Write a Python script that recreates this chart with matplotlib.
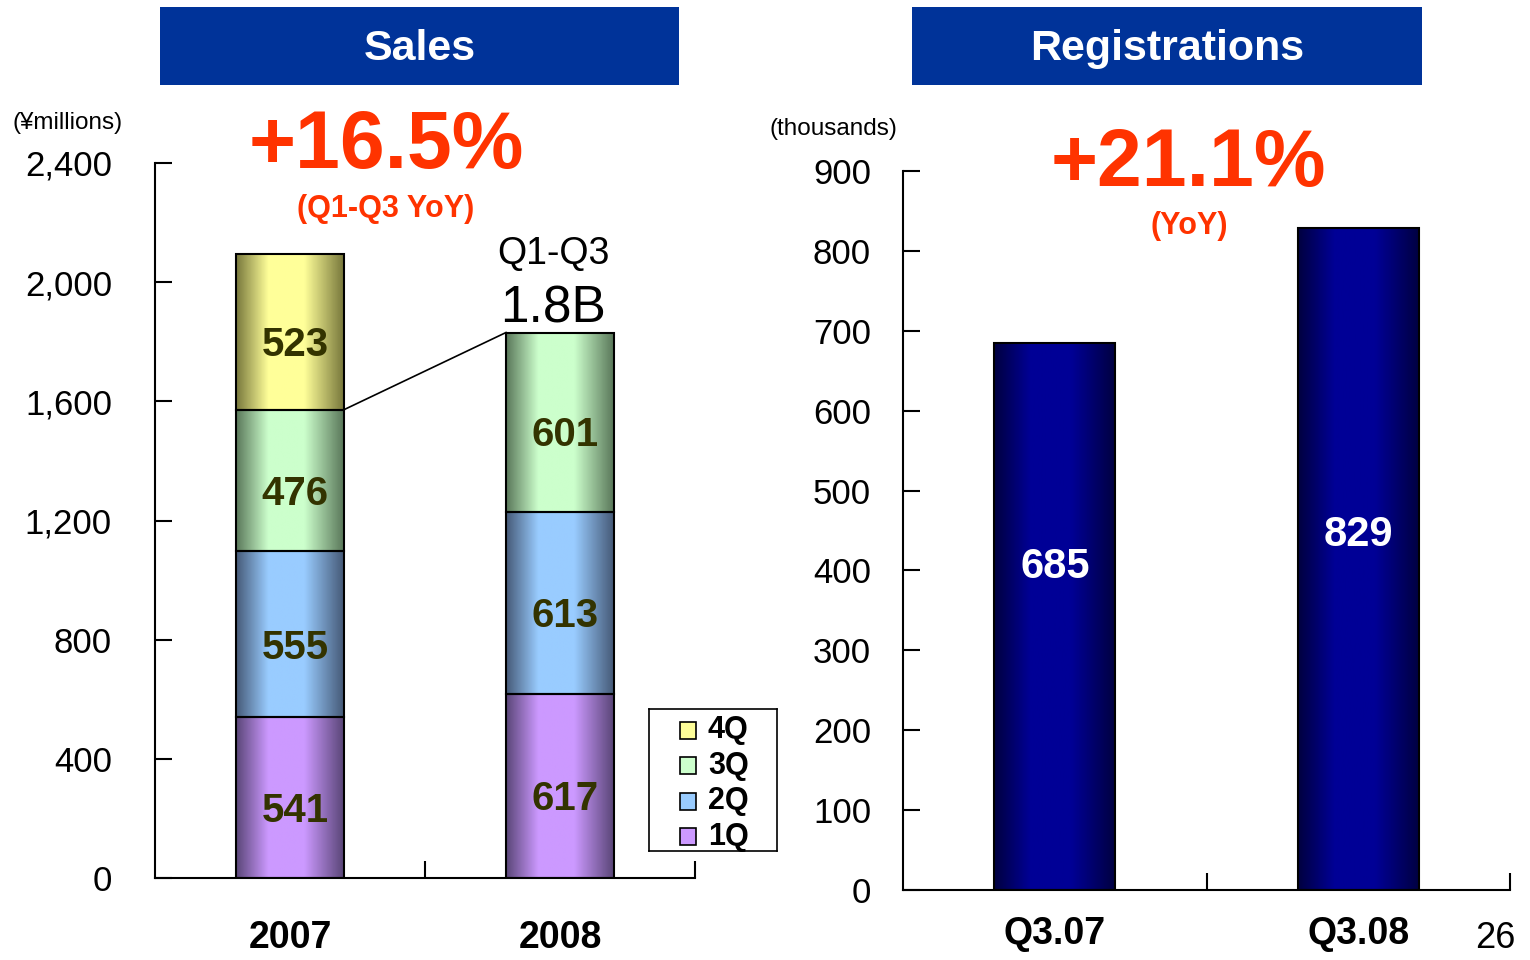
import numpy as np
import matplotlib.pyplot as plt
from matplotlib.colors import LinearSegmentedColormap, to_rgb
from matplotlib.patches import Rectangle
from matplotlib.ticker import FuncFormatter, FixedLocator

plt.rcParams["font.family"] = ["Liberation Sans", "DejaVu Sans"]

# --------------------------------------------------------------
# Data
# --------------------------------------------------------------
years = ["2007", "2008"]
quarters = ["1Q", "2Q", "3Q", "4Q"]
sales_1q = [541, 617]
sales_2q = [555, 613]
sales_3q = [476, 601]
sales_4q = [523, 0]
q_colors = {"1Q": ("#cc99ff", "#5a4678"), "2Q": ("#99ccff", "#465a78"),
            "3Q": ("#ccffcc", "#5a785a"), "4Q": ("#ffff99", "#78783c")}

periods = ["Q3.07", "Q3.08"]
registrations = [685, 829]
reg_label_y = [404, 444]


def gradient_bar(ax, x, bottom, height, width, light, dark):
    bar = ax.bar(x, height, width, bottom=bottom, color="none",
                 edgecolor="black", linewidth=1.5, zorder=3)[0]
    cmap = LinearSegmentedColormap.from_list(
        "g", [to_rgb(dark), to_rgb(light), to_rgb(light), to_rgb(dark)],
    )
    grad = np.linspace(0, 1, 256).reshape(1, -1)
    # bright zone slightly left of centre
    grad = np.interp(grad, [0, 0.45, 1], [0, 0.5, 1])
    im = ax.imshow(grad, cmap=cmap, aspect="auto", zorder=2,
                   extent=[x - width / 2, x + width / 2, bottom, bottom + height])
    im.set_clip_path(bar)
    return bar


fig = plt.figure(figsize=(15.3, 9.6), dpi=100)

# --------------------------------------------------------------
# Sales
# --------------------------------------------------------------
ax1 = fig.add_axes([155 / 1530, 82 / 960, 540 / 1530, 715 / 960])
x = np.arange(len(years)) + 0.5
w = 0.4
stack = [("1Q", sales_1q), ("2Q", sales_2q), ("3Q", sales_3q), ("4Q", sales_4q)]
bottoms = np.zeros(len(years))
tops_3q = None
for q, vals in stack:
    light, dark = q_colors[q]
    for i in range(len(years)):
        if vals[i] == 0:
            continue
        gradient_bar(ax1, x[i], bottoms[i], vals[i], w, light, dark)
        ax1.text(x[i] + 0.02, bottoms[i] + vals[i] / 2 - 45, str(vals[i]),
                 ha="center", va="center", fontsize=29, fontweight="bold",
                 color="#333300", zorder=4)
    bottoms = bottoms + np.array(vals)
    if q == "3Q":
        tops_3q = bottoms.copy()

ax1.plot([x[0] + w / 2, x[1] - w / 2], [tops_3q[0], tops_3q[1]],
         color="black", lw=1.2, zorder=4)

ax1.set_xlim(0, 2)
ax1.set_ylim(0, 2400)
ax1.set_yticks(range(0, 2401, 400))
ax1.yaxis.set_major_formatter(FuncFormatter(lambda v, p: f"{int(v):,}"))
ax1.set_xticks(x)
ax1.set_xticklabels(years, fontsize=27, fontweight="bold")
ax1.xaxis.set_minor_locator(FixedLocator([1, 2]))
ax1.tick_params(axis="x", which="major", length=0, pad=30)
ax1.tick_params(axis="x", which="minor", direction="in", length=12, width=1.5)
ax1.tick_params(axis="y", direction="in", length=12, width=1.5,
                labelsize=25, pad=31)
ax1.spines[["top", "right"]].set_visible(False)
ax1.spines[["left", "bottom"]].set_linewidth(1.5)

# legend box
lax = fig.add_axes([649 / 1530, 109 / 960, 128 / 1530, 142 / 960])
lax.set_xlim(0, 1)
lax.set_ylim(0, 1)
lax.set_xticks([])
lax.set_yticks([])
for s in lax.spines.values():
    s.set_linewidth(1.2)
for j, q in enumerate(["4Q", "3Q", "2Q", "1Q"]):
    yy = 0.85 - j * 0.25
    light, dark = q_colors[q]
    lax.add_patch(Rectangle((0.24, yy - 0.06), 0.13, 0.12, facecolor=light,
                            edgecolor="black", lw=1.2))
    lax.text(0.46, yy, q, va="center", ha="left", fontsize=22, fontweight="bold")

# --------------------------------------------------------------
# Registrations
# --------------------------------------------------------------
ax2 = fig.add_axes([903 / 1530, 70 / 960, 607 / 1530, 719 / 960])
x2 = np.arange(len(periods)) + 0.5
for i, v in enumerate(registrations):
    gradient_bar(ax2, x2[i], 0, v, 0.4, "#000096", "#000040")
    ax2.text(x2[i], reg_label_y[i], str(v), ha="center", va="center",
             fontsize=30, fontweight="bold", color="white", zorder=4)
ax2.set_xlim(0, 2)
ax2.set_ylim(0, 900)
ax2.set_yticks(range(0, 901, 100))
ax2.set_xticks(x2)
ax2.set_xticklabels(periods, fontsize=27, fontweight="bold")
ax2.xaxis.set_minor_locator(FixedLocator([1, 2]))
ax2.tick_params(axis="x", which="major", length=0, pad=19)
ax2.tick_params(axis="x", which="minor", direction="in", length=12, width=1.5)
ax2.tick_params(axis="y", direction="in", length=12, width=1.5,
                labelsize=25, pad=23)
ax2.spines[["top", "right"]].set_visible(False)
ax2.spines[["left", "bottom"]].set_linewidth(1.5)

# --------------------------------------------------------------
# Headers and annotations
# --------------------------------------------------------------
for x0, x1, title in [(160, 679, "Sales"), (912, 1422, "Registrations")]:
    fig.patches.append(Rectangle((x0 / 1530, 1 - 85 / 960), (x1 - x0) / 1530,
                                 78 / 960, transform=fig.transFigure,
                                 facecolor="#003399", edgecolor="none"))
    fig.text((x0 + x1) / 2 / 1530, 1 - 49 / 960, title, ha="center",
             va="center", color="white", fontsize=31, fontweight="bold")

red = "#ff3300"
fig.text(386 / 1530, 1 - 147 / 960, "+16.5%", ha="center", va="center",
         fontsize=58, fontweight="bold", color=red)
fig.text(386 / 1530, 1 - 209 / 960, "(Q1-Q3 YoY)", ha="center", va="center",
         fontsize=22, fontweight="bold", color=red)
fig.text(1188 / 1530, 1 - 165 / 960, "+21.1%", ha="center", va="center",
         fontsize=58, fontweight="bold", color=red)
fig.text(1189 / 1530, 1 - 226 / 960, "(YoY)", ha="center", va="center",
         fontsize=22, fontweight="bold", color=red)

fig.text(553 / 1530, 1 - 254 / 960, "Q1-Q3", ha="center", va="center",
         fontsize=27)
fig.text(553 / 1530, 1 - 309 / 960, "1.8B", ha="center", va="center",
         fontsize=37)

fig.text(68 / 1530, 1 - 123 / 960, "(¥millions)", ha="center", va="center",
         fontsize=17.5)
fig.text(833 / 1530, 1 - 129 / 960, "(thousands)", ha="center", va="center",
         fontsize=17.5)
fig.text(1495 / 1530, 1 - 938 / 960, "26", ha="center", va="center",
         fontsize=26)

fig.savefig("out.png", dpi=100)
